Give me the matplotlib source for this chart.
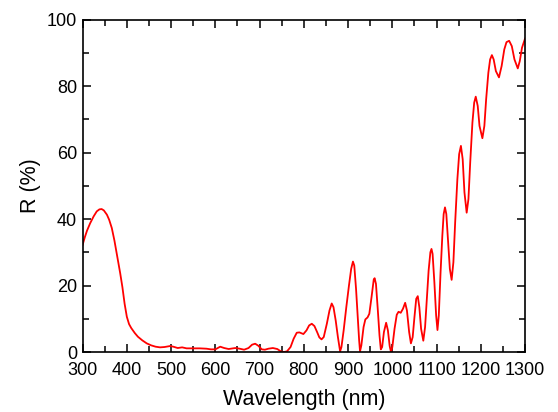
import numpy as np
import matplotlib
matplotlib.use('Agg')
import matplotlib.pyplot as plt
from matplotlib.ticker import MultipleLocator

plt.rcParams['font.family'] = ['Liberation Sans', 'DejaVu Sans']

# reflectance spectrum
wavelength = [300, 305, 310, 317, 325, 332, 338, 343, 348, 355, 360, 366, 372, 378,
              385, 390, 395, 400, 405, 410, 418, 425, 435, 445, 455, 465, 475, 485,
              498, 505, 515, 525, 535, 550, 565, 580, 590, 600, 611, 620, 630, 645,
              655, 665, 675, 683, 690, 697, 705, 712, 720, 730, 740, 748, 755, 762,
              770, 777, 784, 790, 799, 806, 812, 818, 824, 830, 835, 840, 845, 852,
              858, 863, 867, 872, 877, 882, 885, 890, 896, 902, 907, 911, 914, 918,
              922, 925, 927, 930, 935, 939, 944, 948, 953, 958, 960, 963, 967, 971,
              974, 977, 981, 986, 990, 994, 997, 1000, 1005, 1010, 1014, 1019, 1024,
              1029, 1033, 1038, 1042, 1046, 1050, 1054, 1057.5, 1061, 1065, 1070,
              1074, 1078, 1082, 1086, 1088.5, 1091, 1095, 1099, 1102, 1105, 1109,
              1113, 1116, 1119, 1122, 1126, 1130, 1134, 1138, 1142, 1147, 1151, 1155,
              1159, 1163, 1168, 1172, 1176, 1181, 1185, 1188.5, 1193, 1197, 1203.5,
              1208, 1212, 1217, 1221, 1225, 1229, 1234, 1241, 1247, 1253, 1258, 1264,
              1270, 1276, 1283.5, 1288, 1293, 1300]
reflectance = [32.2, 34.5, 36.5, 38.7, 40.8, 42.3, 42.9, 43.0, 42.6, 41.3, 39.8, 37.3,
               33.5, 29.0, 23.7, 19.5, 14.5, 10.6, 8.4, 7.2, 5.7, 4.6, 3.5, 2.6, 2.0,
               1.6, 1.4, 1.5, 1.8, 1.6, 1.2, 1.4, 1.1, 1.1, 1.1, 1.0, 0.8, 0.8, 1.6,
               1.2, 0.9, 1.2, 1.0, 0.7, 1.2, 2.2, 2.5, 1.9, 0.8, 0.7, 1.0, 1.2, 0.9,
               0.2, 0.0, 0.2, 1.5, 4.0, 5.8, 5.9, 5.4, 6.5, 8.0, 8.5, 7.8, 6.0, 4.4,
               3.8, 4.5, 8.5, 12.5, 14.6, 13.5, 9.5, 4.5, 0.2, 1.5, 6.5, 13.5, 20.0,
               25.0, 27.2, 26.0, 19.0, 10.0, 3.5, 0.2, 2.0, 7.5, 9.8, 10.4, 11.5,
               16.5, 21.8, 22.2, 20.5, 13.0, 5.0, 0.8, 1.5, 6.0, 8.8, 6.5, 1.8, 0.0,
               1.5, 7.0, 11.2, 12.1, 11.8, 13.0, 14.8, 12.5, 6.0, 2.6, 4.5, 10.5,
               16.0, 16.8, 13.5, 7.0, 3.4, 7.5, 16.0, 24.5, 30.0, 31.0, 29.5, 21.0,
               11.0, 6.6, 11.0, 24.0, 35.0, 41.5, 43.5, 41.5, 33.0, 25.0, 21.7, 27.0,
               39.0, 52.0, 59.5, 62.0, 58.0, 48.0, 41.9, 46.0, 57.0, 69.0, 75.0, 76.8,
               74.0, 68.0, 64.3, 68.0, 76.0, 84.0, 88.0, 89.3, 88.0, 84.5, 82.6, 86.0,
               91.0, 93.2, 93.6, 92.0, 88.0, 85.3, 87.5, 91.5, 94.3]

fig = plt.figure(figsize=(5.58, 4.12), dpi=100)
ax = fig.add_axes([0.148, 0.1456, 0.793, 0.807])

ax.plot(wavelength, reflectance, color='#ff0000', linewidth=1.3)

ax.set_xlim(300, 1300)
ax.set_ylim(0, 100)
ax.xaxis.set_major_locator(MultipleLocator(100))
ax.xaxis.set_minor_locator(MultipleLocator(50))
ax.yaxis.set_major_locator(MultipleLocator(20))
ax.yaxis.set_minor_locator(MultipleLocator(10))

ax.tick_params(which='both', direction='in', top=True, right=True, width=1.1, labelsize=13)
ax.tick_params(which='major', length=6)
ax.tick_params(which='minor', length=4)
ax.tick_params(axis='x', which='major', pad=7.5)
ax.tick_params(axis='y', which='major', pad=4)
for s in ax.spines.values():
    s.set_linewidth(1.2)

ax.set_xlabel('Wavelength (nm)', fontsize=15.5, labelpad=7)
ax.set_ylabel('R (%)', fontsize=15.5, labelpad=4)

fig.savefig('out.png', dpi=100)
